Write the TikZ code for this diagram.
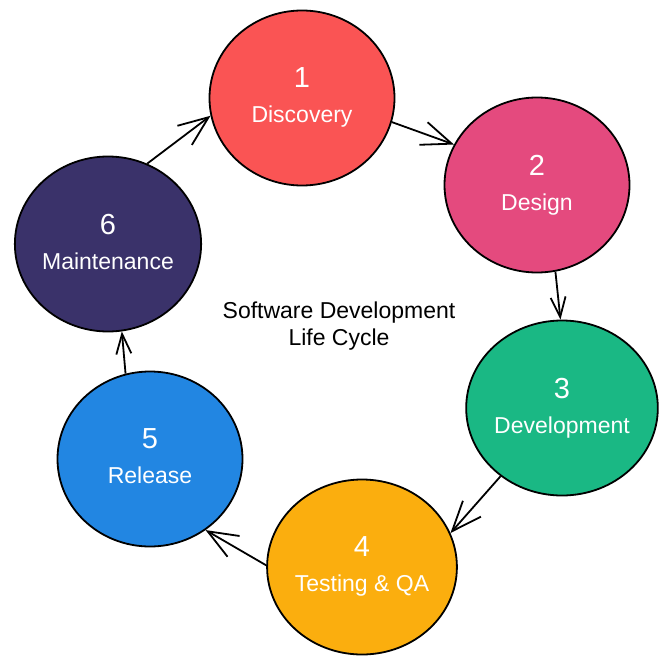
\documentclass[tikz,border=0pt]{standalone}
\usepackage{fontspec}
\setmainfont{Liberation Sans}
\usetikzlibrary{shapes.geometric}
\usetikzlibrary{arrows.meta}
\definecolor{discred}{RGB}{250,84,84}
\definecolor{despink}{RGB}{228,74,126}
\definecolor{devgreen}{RGB}{26,184,132}
\definecolor{testorange}{RGB}{251,174,14}
\definecolor{relblue}{RGB}{34,134,226}
\definecolor{maintnavy}{RGB}{58,50,106}
\newcommand{\stagenum}[1]{{\fontsize{29}{29}\selectfont #1}}

\begin{document}
\begin{tikzpicture}[x=1pt,y=-1pt,
  phase/.style={ellipse, draw=black, line width=1.8pt, minimum width=185pt, minimum height=175pt, inner sep=0pt, align=center, text=white, font=\fontsize{23}{35}\selectfont, text depth=5pt},
  flow/.style={line width=1.8pt, -{Straight Barb[length=30pt,width=24pt]}},
  flowv/.style={line width=1.8pt, -{Straight Barb[length=20pt,width=15pt]}}]
\useasboundingbox (0,0) rectangle (658,666);
\node[phase, fill=discred] (a) at (302,98) {\stagenum{1}\\Discovery};
\node[phase, fill=despink] (b) at (537,185) {\stagenum{2}\\Design};
\node[phase, fill=devgreen] (c) at (562,408) {\stagenum{3}\\Development};
\node[phase, fill=testorange] (d) at (362,567) {\stagenum{4}\\Testing \& QA};
\node[phase, fill=relblue] (e) at (150,459) {\stagenum{5}\\Release};
\node[phase, fill=maintnavy] (f) at (108,244) {\stagenum{6}\\Maintenance};
\node[font=\fontsize{23}{27}\selectfont, align=center] (g) at (339,326) {Software Development\\Life Cycle};
\draw[flow] (f.64) -- (a.191);
\draw[flow] (a.-15) -- (b.154);
\draw[flowv] (b.-78) -- (c.91);
\draw[flow] (c.228) -- (d.21);
\draw[flow] (d.179) -- (e.-52);
\draw[flowv] (e.106) -- (f.-81);
\end{tikzpicture}
\end{document}
